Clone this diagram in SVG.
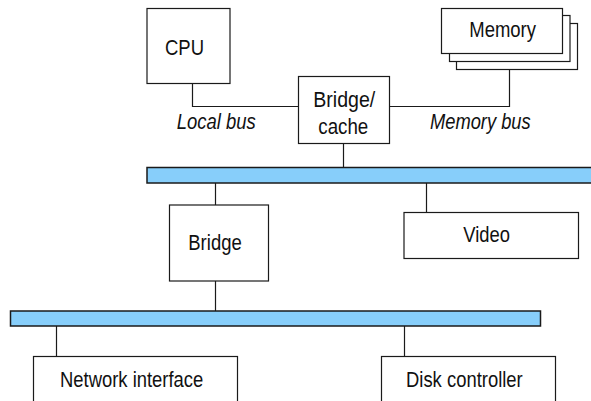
<svg xmlns="http://www.w3.org/2000/svg" width="591" height="401" viewBox="0 0 591 401">
  <style>
    .box { fill: #ffffff; stroke: #1a1a1a; stroke-width: 1.2; }
    .bus { fill: #87cefa; stroke: #1a1a1a; stroke-width: 1.5; }
    .wire { fill: none; stroke: #1a1a1a; stroke-width: 1.2; }
    .lbl { font-family: "Liberation Sans", Arial, sans-serif; font-size: 22px; fill: #111111; }
    .it { font-style: italic; }
  </style>
  <rect width="591" height="401" fill="#ffffff"/>

  <!-- connecting lines -->
  <g id="connectors">
    <path class="wire" d="M192.5 83.5 V106.5 H298.5"/>
    <path class="wire" d="M389.5 106.5 H509.5 V69.5"/>
    <path class="wire" d="M343.5 143.5 V167.5"/>
    <path class="wire" d="M215.5 183 V205"/>
    <path class="wire" d="M426.5 183 V212.5"/>
    <path class="wire" d="M215.5 281 V311"/>
    <path class="wire" d="M56.5 326 V356.5"/>
    <path class="wire" d="M404.5 326 V356.5"/>
    <text class="lbl it" x="176.7" y="129.3" textLength="79" lengthAdjust="spacingAndGlyphs">Local bus</text>
    <text class="lbl it" x="430" y="129" textLength="100.7" lengthAdjust="spacingAndGlyphs">Memory bus</text>
  </g>

  <g id="cpu">
    <rect class="box" x="147" y="8.5" width="83" height="75"/>
    <text class="lbl" x="165" y="55" textLength="39" lengthAdjust="spacingAndGlyphs">CPU</text>
  </g>

  <g id="memory">
    <rect class="box" x="456.5" y="23.5" width="121" height="46"/>
    <rect class="box" x="449.5" y="15.5" width="120.5" height="46"/>
    <rect class="box" x="441.5" y="8.5" width="121" height="45"/>
    <text class="lbl" x="469.3" y="37.3" textLength="66.7" lengthAdjust="spacingAndGlyphs">Memory</text>
  </g>

  <g id="bridge-cache">
    <rect class="box" x="298.5" y="76.5" width="91" height="67"/>
    <text class="lbl" x="313.3" y="107" textLength="62" lengthAdjust="spacingAndGlyphs">Bridge/</text>
    <text class="lbl" x="318.3" y="134" textLength="50" lengthAdjust="spacingAndGlyphs">cache</text>
  </g>

  <g id="system-bus">
    <rect class="bus" x="147" y="167.5" width="450" height="15.5"/>
  </g>

  <g id="bridge">
    <rect class="box" x="169.5" y="205" width="99" height="76"/>
    <text class="lbl" x="188.3" y="249.5" textLength="53.4" lengthAdjust="spacingAndGlyphs">Bridge</text>
  </g>

  <g id="video">
    <rect class="box" x="404" y="212.5" width="174.5" height="46"/>
    <text class="lbl" x="463.3" y="241.7" textLength="46.7" lengthAdjust="spacingAndGlyphs">Video</text>
  </g>

  <g id="io-bus">
    <rect class="bus" x="10.5" y="311" width="530" height="15"/>
  </g>

  <g id="network-interface">
    <rect class="box" x="33.5" y="356.5" width="204" height="60"/>
    <text class="lbl" x="60" y="386.7" textLength="143.3" lengthAdjust="spacingAndGlyphs">Network interface</text>
  </g>

  <g id="disk-controller">
    <rect class="box" x="381.5" y="356.5" width="174" height="60"/>
    <text class="lbl" x="406" y="386.7" textLength="116.7" lengthAdjust="spacingAndGlyphs">Disk controller</text>
  </g>
</svg>
